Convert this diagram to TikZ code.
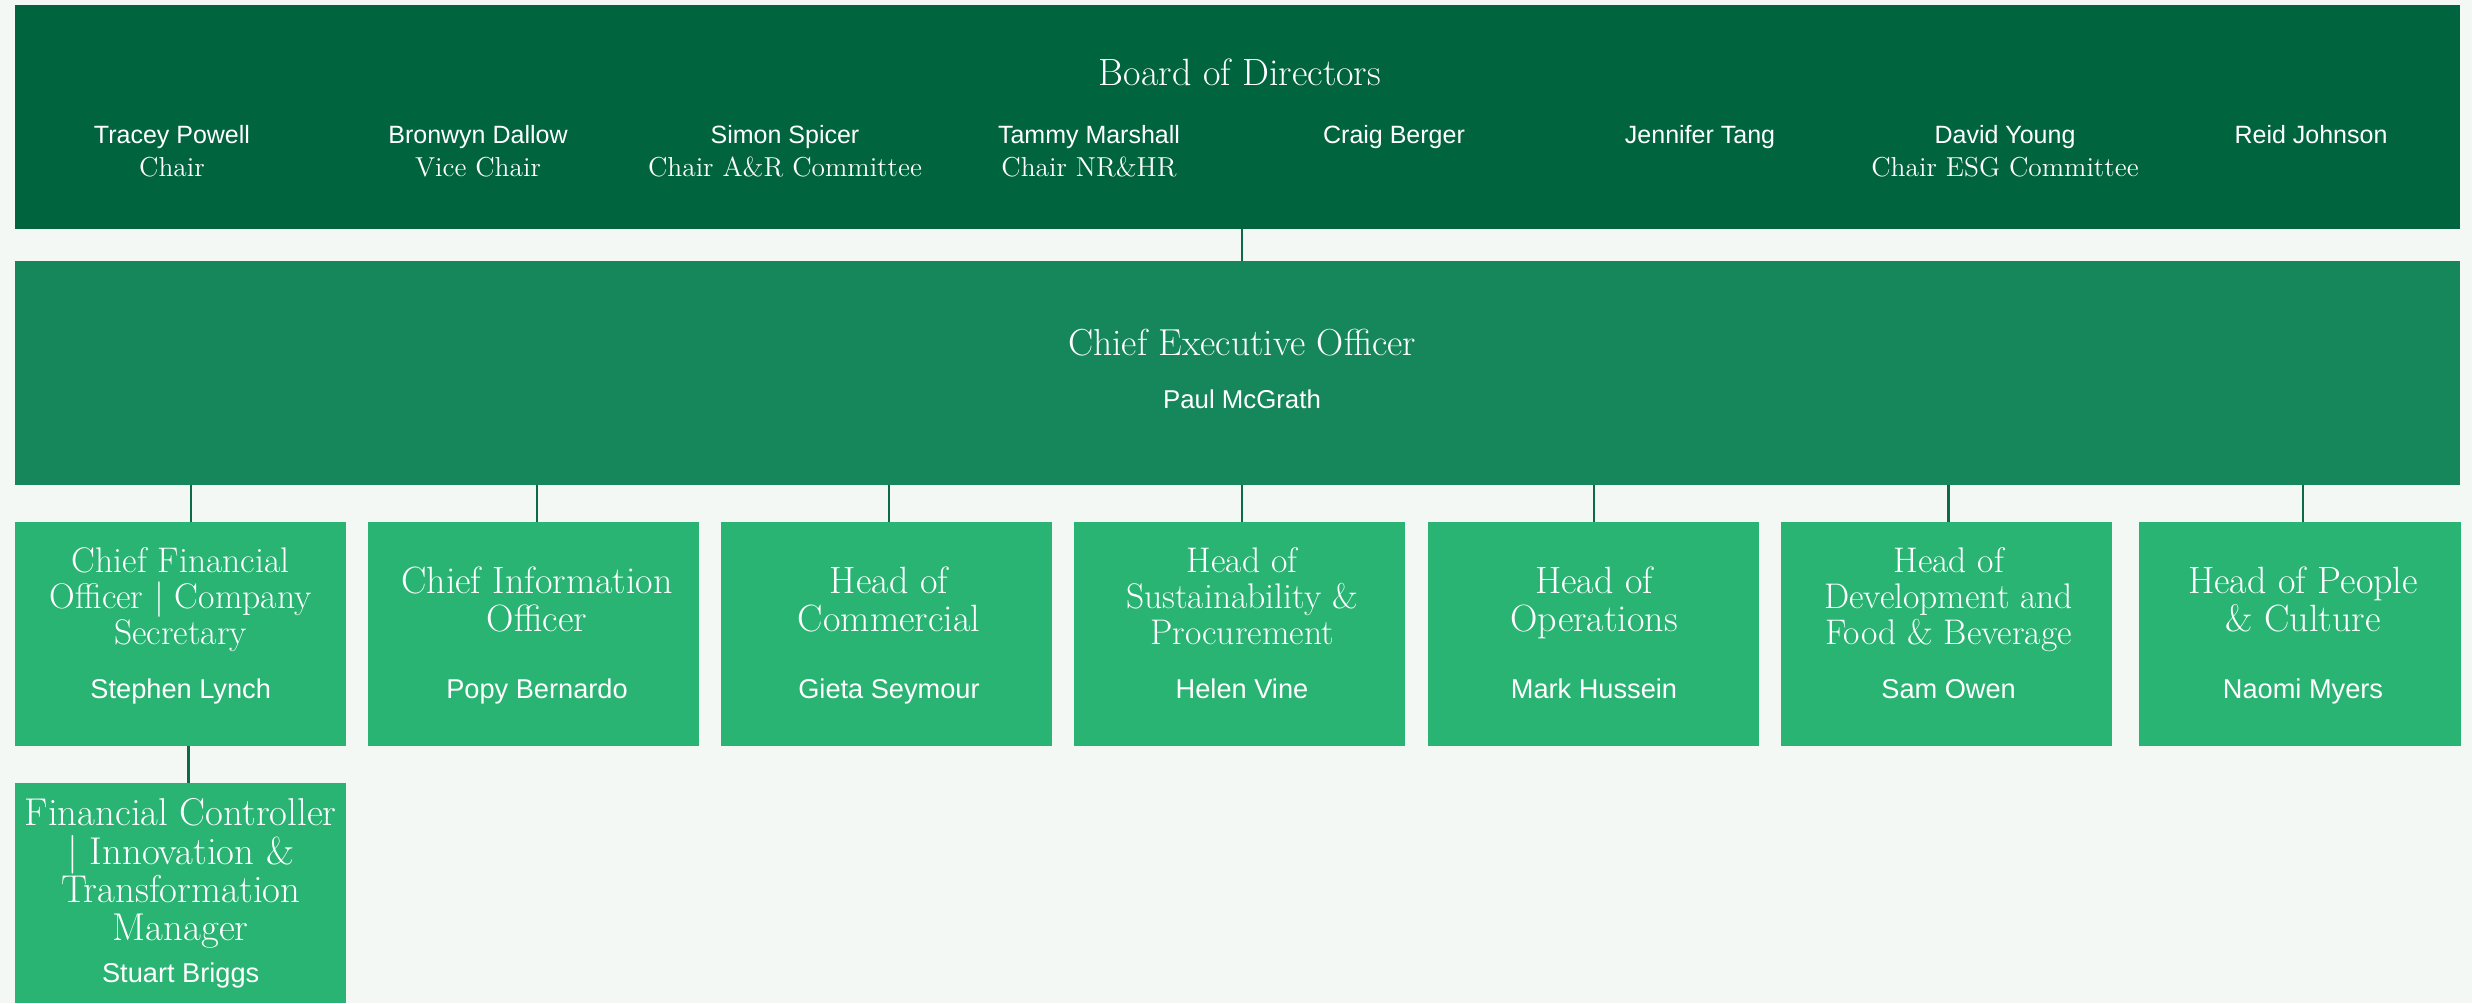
\documentclass[tikz,border=0pt]{standalone}
\usepackage{fontspec}
\setsansfont{Liberation Sans}
\usepackage{tikz}
\usetikzlibrary{calc}

\definecolor{paper}{HTML}{F3F8F4}
\definecolor{boardgreen}{HTML}{00653F}
\definecolor{ceogreen}{HTML}{15875A}
\definecolor{headgreen}{HTML}{29B473}
\definecolor{linegreen}{HTML}{0D6A48}

\newcommand{\who}[1]{{\sffamily\fontsize{12.5}{16.5}\selectfont #1}}

\begin{document}
\begin{tikzpicture}[x=.5pt, y=-.5pt,
    box/.style={inner sep=0pt, minimum height=112pt},
    head/.style={box, fill=headgreen, minimum width=165.5pt},
    ttl/.style={anchor=north, align=center, text=white, inner sep=0pt},
    bigttl/.style={ttl, font=\fontsize{19}{19}\selectfont},
    smallttl/.style={ttl, font=\fontsize{17.8}{18}\selectfont},
    nm/.style={anchor=base, text=white, inner sep=0pt, font=\sffamily\fontsize{13.6}{16}\selectfont},
    member/.style={anchor=north, align=center, text=white, inner sep=0pt, font=\fontsize{13.7}{16.5}\selectfont},
    conn/.style={draw=linegreen, line width=1.2pt}]
      \useasboundingbox (0,0) rectangle (2472,1003);
      \fill[paper] (0,0) rectangle (2472,1003);

      % board
      \node (board) at (1237.5,117) [box, fill=boardgreen, minimum width=1222.5pt] {};
      \node (boardt) at (1240,85) [anchor=base, text=white, inner sep=0pt, font=\fontsize{19}{20}\selectfont] {Board of Directors};
      \node (tp) at (172,125) [member] {\who{Tracey Powell}\\Chair};
      \node (bd) at (478,125) [member] {\who{Bronwyn Dallow}\\Vice Chair};
      \node (ss) at (785,125) [member] {\who{Simon Spicer}\\Chair A\&R Committee};
      \node (tm) at (1089,125) [member] {\who{Tammy Marshall}\\Chair NR\&HR};
      \node (cb) at (1394,125) [member] {\who{Craig Berger}};
      \node (jt) at (1700,125) [member] {\who{Jennifer Tang}};
      \node (dy) at (2005,125) [member] {\who{David Young}\\Chair ESG Committee};
      \node (rj) at (2311,125) [member] {\who{Reid Johnson}};

      % ceo
      \node (ceo) at (1237.5,373) [box, fill=ceogreen, minimum width=1222.5pt] {};
      \node (ceot) at (1242,328.9) [ttl, font=\fontsize{18.8}{26.5}\selectfont] {Chief Executive Officer\\{\sffamily\fontsize{12.9}{16}\selectfont Paul McGrath}};

      % heads
      \node (cfo) at (180.5,634) [head] {};
      \node (cfot) at (180.7,547) [smallttl] {Chief Financial\\Officer \textbar{} Company\\Secretary};
      \node (cfon) at (180.7,698) [nm] {Stephen Lynch};

      \node (cio) at (533.5,634) [head] {};
      \node (ciot) at (537,566.3) [bigttl] {Chief Information\\Officer};
      \node (cion) at (537,698) [nm] {Popy Bernardo};

      \node (comm) at (886.5,634) [head] {};
      \node (commt) at (889,566.3) [bigttl] {Head of\\Commercial};
      \node (commn) at (889,698) [nm] {Gieta Seymour};

      \node (sust) at (1239.7,634) [head] {};
      \node (sustt) at (1242,547) [smallttl] {Head of\\Sustainability \&\\Procurement};
      \node (sustn) at (1242,698) [nm] {Helen Vine};

      \node (ops) at (1593,634) [head] {};
      \node (opst) at (1594,566.3) [bigttl] {Head of\\Operations};
      \node (opsn) at (1594,698) [nm] {Mark Hussein};

      \node (dev) at (1946,634) [head] {};
      \node (devt) at (1948.6,547) [smallttl] {Head of\\Development and\\Food \& Beverage};
      \node (devn) at (1948.6,698) [nm] {Sam Owen};

      \node (ppl) at (2299.5,634) [head, minimum width=161pt] {};
      \node (pplt) at (2303,566.3) [bigttl] {Head of People\\\& Culture};
      \node (ppln) at (2303,698) [nm] {Naomi Myers};

      % under the cfo
      \node (fc) at (180.5,893) [head, minimum height=110pt] {};
      \node (fct) at (180.7,798.1) [ttl, font=\fontsize{19.4}{19.2}\selectfont] {Financial Controller\\\textbar{} Innovation \&\\Transformation\\Manager};
      \node (fcn) at (180.7,982) [nm] {Stuart Briggs};

      \draw[conn] (ceot.north |- board.south) -- (ceot.north |- ceo.north);
      \draw[conn]
      ([xshift=5.2pt]cfo.north) -- ([xshift=5.2pt]cfo.north |- ceo.south)
      (ciot.north |- cio.north) -- (ciot.north |- ceo.south)
      (commt.north |- comm.north) -- (commt.north |- ceo.south)
      (sustt.north |- sust.north) -- (sustt.north |- ceo.south)
      (opst.north |- ops.north) -- (opst.north |- ceo.south)
      (devt.north |- dev.north) -- (devt.north |- ceo.south)
      (pplt.north |- ppl.north) -- (pplt.north |- ceo.south);
      \draw[conn] ([xshift=4pt]cfo.south) -- ([xshift=4pt]fc.north);
    \end{tikzpicture}
\end{document}
